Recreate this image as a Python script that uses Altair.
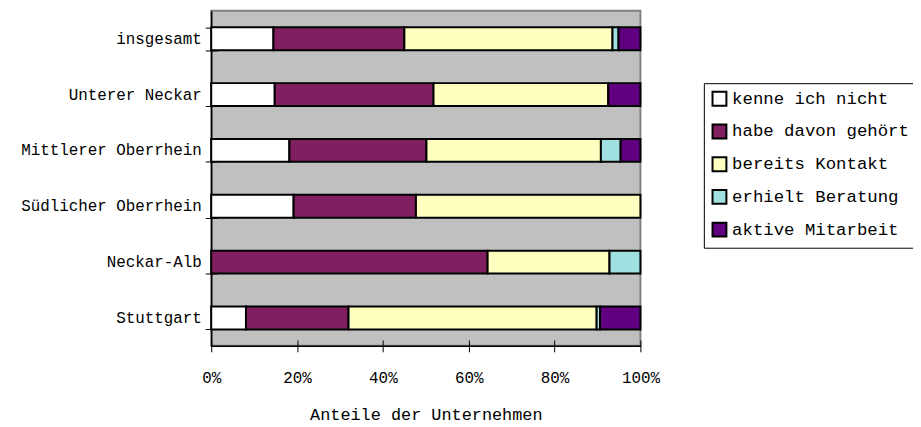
import altair as alt
import pandas as pd

regions = ["insgesamt", "Unterer Neckar", "Mittlerer Oberrhein",
           "Südlicher Oberrhein", "Neckar-Alb", "Stuttgart"]
categories = ["kenne ich nicht", "habe davon gehört", "bereits Kontakt",
              "erhielt Beratung", "aktive Mitarbeit"]
colors = ["#FFFFFF", "#802060", "#FFFFC0", "#A0E0E0", "#600080"]

kenne = [14.5, 14.8, 18.2, 19.2, 0.0, 8.1]
habe = [30.5, 37.0, 31.9, 28.5, 64.4, 23.9]
bereits = [48.5, 40.7, 40.6, 52.3, 28.4, 57.8]
erhielt = [1.4, 0.0, 4.6, 0.0, 7.2, 0.8]
aktive = [5.1, 7.5, 4.6, 0.0, 0.0, 9.4]

series = [kenne, habe, bereits, erhielt, aktive]
rows = []
for ci, (cat, vals) in enumerate(zip(categories, series)):
    for r, v in zip(regions, vals):
        if v > 0:
            rows.append({"region": r, "cat": cat, "value": v, "ord": ci})
df = pd.DataFrame(rows)

FONT = "Liberation Mono"
xticks = [0, 0.2, 0.4, 0.6, 0.8, 1.0]

base = alt.Chart(df)

ysc = alt.Scale(paddingInner=0.59, paddingOuter=0.295)
xsc = alt.Scale(domain=[0, 1])

bars = base.mark_bar(stroke="black", strokeWidth=2).encode(
    x=alt.X("value:Q", stack="normalize", scale=xsc,
            axis=alt.Axis(format="%", values=xticks, ticks=False, grid=False,
                          domainColor="black", domainWidth=1.5,
                          labelFont=FONT, labelFontSize=16, labelColor="black",
                          labelPadding=24, labelFlush=False,
                          title="Anteile der Unternehmen", titleFont=FONT,
                          titleFontSize=17, titleFontWeight="normal",
                          titleColor="black", titlePadding=21)),
    y=alt.Y("region:N", sort=regions, scale=ysc,
            axis=alt.Axis(title=None, ticks=False, grid=False,
                          domainColor="black", domainWidth=1.5,
                          labelFont=FONT, labelFontSize=16, labelColor="black",
                          labelPadding=10, labelLimit=300)),
    color=alt.Color("cat:N", sort=categories,
                    scale=alt.Scale(domain=categories, range=colors),
                    legend=alt.Legend(title=None, orient="none", legendX=497,
                                      legendY=73, direction="vertical",
                                      symbolType="square", symbolSize=196,
                                      symbolStrokeColor="black",
                                      symbolStrokeWidth=2, symbolOpacity=1,
                                      labelFont=FONT, labelFontSize=17.5,
                                      labelColor="black", labelOffset=4,
                                      labelLimit=400, rowPadding=10,
                                      padding=7, strokeColor="black",
                                      fillColor="white")),
    order=alt.Order("ord:Q"),
)

tick_layer = base.mark_bar(opacity=0).encode(
    x=alt.X("value:Q", stack="normalize", scale=xsc,
            axis=alt.Axis(orient="bottom", offset=-6, tickSize=12,
                          tickColor="black", labels=False, domain=False,
                          grid=False, title=None, values=xticks)),
    y=alt.Y("region:N", sort=regions, scale=ysc,
            axis=alt.Axis(orient="left", offset=-6, tickSize=12,
                          tickColor="black", labels=False, domain=False,
                          grid=False, title=None, tickBand="extent")),
    detail="cat:N",
)

chart = alt.layer(bars, tick_layer).resolve_axis(
    x="independent", y="independent"
).properties(
    width=433, height=338,
    autosize=alt.AutoSizeParams(type="none"),
    padding={"left": 205, "top": 1, "right": 275, "bottom": 78},
).configure_view(fill="#C0C0C0", stroke="#808080", strokeWidth=2)

chart.save("out.html", embed_options={"renderer": "svg", "actions": False})
